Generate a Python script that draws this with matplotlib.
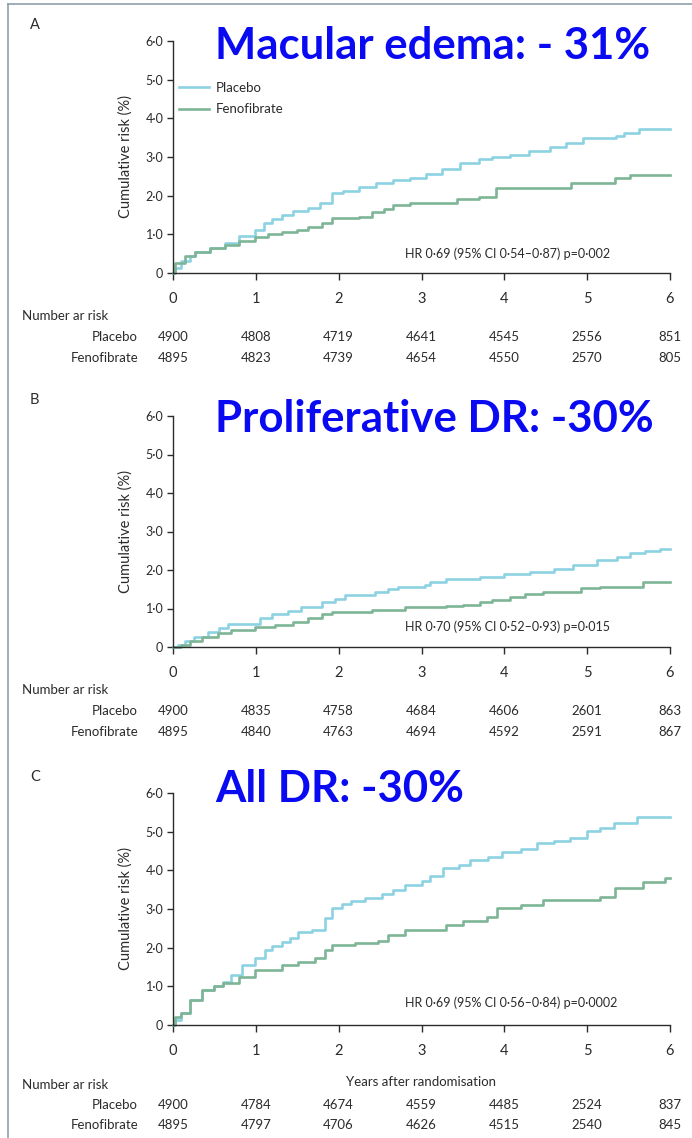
"""Cumulative risk curves for the three eye outcomes (placebo vs fenofibrate)."""
import matplotlib

matplotlib.use("Agg")
import matplotlib.pyplot as plt
from matplotlib import font_manager
from matplotlib.lines import Line2D

# Panel A: macular edema
me_placebo_t = [0, 0.03, 0.1, 0.2, 0.27, 0.45, 0.63, 0.8, 0.99, 1.1, 1.2, 1.31, 1.45, 1.63,
                1.78, 1.92, 2.05, 2.24, 2.45, 2.65, 2.86, 3.05, 3.25, 3.47, 3.7, 3.85, 4.07,
                4.3, 4.55, 4.75, 4.95, 5.35, 5.45, 5.63, 6.0]
me_placebo_risk = [0, 0.13, 0.3, 0.45, 0.55, 0.65, 0.77, 0.95, 1.11, 1.3, 1.4, 1.5, 1.6, 1.68,
                   1.8, 2.07, 2.12, 2.23, 2.32, 2.4, 2.46, 2.55, 2.7, 2.84, 2.95, 3.0, 3.05,
                   3.15, 3.25, 3.35, 3.49, 3.55, 3.62, 3.72, 3.72]
me_feno_t = [0, 0.02, 0.15, 0.27, 0.45, 0.63, 0.8, 0.99, 1.15, 1.31, 1.5, 1.63, 1.8, 1.92,
             2.24, 2.4, 2.55, 2.65, 2.86, 3.43, 3.7, 3.9, 4.8, 5.34, 5.52, 6.0]
me_feno_risk = [0, 0.26, 0.45, 0.55, 0.65, 0.72, 0.82, 0.93, 1.0, 1.06, 1.12, 1.19, 1.3, 1.42,
                1.45, 1.58, 1.65, 1.76, 1.81, 1.91, 1.97, 2.2, 2.32, 2.46, 2.53, 2.53]

# Panel B: proliferative DR
pdr_placebo_t = [0, 0.06, 0.15, 0.25, 0.42, 0.55, 0.66, 1.05, 1.2, 1.39, 1.55, 1.8, 1.95, 2.08,
                 2.44, 2.6, 2.72, 3.04, 3.1, 3.3, 3.71, 3.99, 4.31, 4.6, 4.83, 5.12, 5.36,
                 5.52, 5.7, 5.88, 6.0]
pdr_placebo_risk = [0, 0.05, 0.15, 0.25, 0.39, 0.5, 0.6, 0.75, 0.85, 0.94, 1.05, 1.17, 1.25,
                    1.35, 1.43, 1.5, 1.56, 1.61, 1.69, 1.77, 1.82, 1.9, 1.95, 2.03, 2.13, 2.26,
                    2.34, 2.44, 2.5, 2.55, 2.55]
pdr_feno_t = [0, 0.1, 0.2, 0.35, 0.54, 0.7, 0.99, 1.23, 1.45, 1.63, 1.8, 1.92, 2.4, 2.8, 3.3,
              3.5, 3.71, 3.85, 4.07, 4.25, 4.47, 4.92, 5.16, 5.68, 6.0]
pdr_feno_risk = [0, 0.05, 0.15, 0.25, 0.36, 0.45, 0.52, 0.57, 0.65, 0.75, 0.85, 0.91, 0.96,
                 1.04, 1.06, 1.1, 1.17, 1.22, 1.3, 1.38, 1.43, 1.53, 1.56, 1.69, 1.69]

# Panel C: all DR
dr_placebo_t = [0, 0.03, 0.1, 0.2, 0.35, 0.5, 0.6, 0.7, 0.83, 0.99, 1.11, 1.2, 1.31, 1.41,
                1.51, 1.68, 1.83, 1.92, 2.04, 2.15, 2.32, 2.52, 2.65, 2.8, 3.0, 3.1, 3.26,
                3.45, 3.59, 3.8, 3.97, 4.2, 4.4, 4.6, 4.79, 5.0, 5.15, 5.32, 5.6, 6.0]
dr_placebo_risk = [0, 0.13, 0.31, 0.65, 0.9, 1.0, 1.11, 1.3, 1.55, 1.73, 1.94, 2.05, 2.15,
                   2.25, 2.4, 2.46, 2.77, 3.03, 3.13, 3.2, 3.28, 3.39, 3.5, 3.62, 3.72, 3.85,
                   4.06, 4.15, 4.27, 4.35, 4.47, 4.55, 4.7, 4.77, 4.84, 5.02, 5.1, 5.22, 5.38,
                   5.38]
dr_feno_t = [0, 0.03, 0.1, 0.2, 0.35, 0.5, 0.6, 0.8, 0.99, 1.31, 1.51, 1.71, 1.83, 1.92, 2.2,
             2.48, 2.6, 2.8, 3.3, 3.5, 3.79, 3.91, 4.2, 4.47, 5.16, 5.34, 5.68, 5.94, 6.0]
dr_feno_risk = [0, 0.2, 0.31, 0.65, 0.9, 1.0, 1.09, 1.25, 1.42, 1.55, 1.63, 1.73, 1.94, 2.07,
                2.12, 2.16, 2.33, 2.46, 2.59, 2.7, 2.79, 3.03, 3.1, 3.23, 3.31, 3.54, 3.7,
                3.8, 3.8]

# numbers at risk at years 0..6
risk_years = [0, 1, 2, 3, 4, 5, 6]
me_risk_placebo = [4900, 4808, 4719, 4641, 4545, 2556, 851]
me_risk_feno = [4895, 4823, 4739, 4654, 4550, 2570, 805]
pdr_risk_placebo = [4900, 4835, 4758, 4684, 4606, 2601, 863]
pdr_risk_feno = [4895, 4840, 4763, 4694, 4592, 2591, 867]
dr_risk_placebo = [4900, 4784, 4674, 4559, 4485, 2524, 837]
dr_risk_feno = [4895, 4797, 4706, 4626, 4515, 2540, 845]

yticks = [0, 1, 2, 3, 4, 5, 6]
ytick_labels = ["0", "1·0", "2·0", "3·0", "4·0", "5·0", "6·0"]

PLACEBO_COLOR = "#8dd2e2"
FENO_COLOR = "#7db596"
TITLE_COLOR = "#0a0af2"
TEXT_COLOR = "#2b2b2b"


def pick_font(names):
    for name in names:
        try:
            font_manager.findfont(name, fallback_to_default=False)
            return name
        except ValueError:
            continue
    return "DejaVu Sans"


NARROW = pick_font(["Liberation Sans Narrow", "Lato", "Open Sans"])
BOLD_FONT = pick_font(["Lato", "Open Sans", "Noto Sans"])
plt.rcParams["font.family"] = [NARROW, "DejaVu Sans"]

W, H = 692, 1138
fig = plt.figure(figsize=(W / 100, H / 100), dpi=100)

X0, X1 = 173, 670  # pixel x of year 0 and year 6


def draw_panel(y_zero, y_six, letter, title, title_y, placebo, feno, hr_text, hr_y,
               risk_placebo, risk_feno, table_y, xlabel=False, legend=False):
    """Draw one panel; pixel positions are in reference image coordinates."""
    ax = fig.add_axes([X0 / W, 1 - y_zero / H, (X1 - X0) / W, (y_zero - y_six) / H])
    ax.step(placebo[0], placebo[1], where="post", color=PLACEBO_COLOR, lw=1.9,
            label="Placebo", clip_on=False)
    ax.step(feno[0], feno[1], where="post", color=FENO_COLOR, lw=1.9,
            label="Fenofibrate", clip_on=False)
    ax.set_xlim(0, 6)
    ax.set_ylim(0, 6)
    ax.set_xticks(risk_years)
    ax.set_yticks(yticks)
    ax.set_yticklabels(ytick_labels)
    for side in ("top", "right"):
        ax.spines[side].set_visible(False)
    for side in ("left", "bottom"):
        ax.spines[side].set_color(TEXT_COLOR)
        ax.spines[side].set_linewidth(1.0)
    ax.tick_params(axis="x", direction="out", length=5, width=1, colors=TEXT_COLOR,
                   labelsize=10.5, pad=9)
    ax.tick_params(axis="y", direction="out", length=4, width=1, colors=TEXT_COLOR,
                   labelsize=9, pad=3)
    ax.set_ylabel("Cumulative risk (%)", fontsize=10.5, color=TEXT_COLOR, labelpad=9)
    if xlabel:
        ax.set_xlabel("Years after randomisation", fontsize=9.5, color=TEXT_COLOR,
                      labelpad=13)
    if legend:
        ax.legend(loc="upper left", bbox_to_anchor=(0.012, 0.825), frameon=False,
                  fontsize=9.5, handlelength=2.3, handletextpad=0.5, borderaxespad=0,
                  borderpad=0, labelspacing=0.75, labelcolor=TEXT_COLOR)
    ax.text(2.8, hr_y, hr_text, fontsize=9, color=TEXT_COLOR, va="center", ha="left")

    fig.text(30 / W, 1 - (y_six - 16) / H, letter, fontsize=10.5, color=TEXT_COLOR,
             va="center", ha="left")
    fig.text(215 / W, 1 - title_y / H, title, fontsize=31.5, fontweight="bold",
             color=TITLE_COLOR, va="center", ha="left", family=BOLD_FONT)

    # numbers at risk table
    fig.text(22 / W, 1 - table_y[0] / H, "Number ar risk", fontsize=9.5,
             color=TEXT_COLOR, va="center", ha="left")
    for label, counts, yy in (("Placebo", risk_placebo, table_y[1]),
                              ("Fenofibrate", risk_feno, table_y[2])):
        fig.text(138 / W, 1 - yy / H, label, fontsize=9.5, color=TEXT_COLOR,
                 va="center", ha="right")
        for yr, n in zip(risk_years, counts):
            xp = X0 + yr * (X1 - X0) / 6
            fig.text(xp / W, 1 - yy / H, str(n), fontsize=9.5, color=TEXT_COLOR,
                     va="center", ha="center")
    return ax


draw_panel(273, 41, "A", "Macular edema: - 31%", 46, (me_placebo_t, me_placebo_risk),
           (me_feno_t, me_feno_risk), "HR 0·69 (95% CI 0·54–0·87) p=0·002", 0.49,
           me_risk_placebo, me_risk_feno, (316, 337, 358), legend=True)
draw_panel(647, 416, "B", "Proliferative DR: -30%", 419, (pdr_placebo_t, pdr_placebo_risk),
           (pdr_feno_t, pdr_feno_risk), "HR 0·70 (95% CI 0·52–0·93) p=0·015", 0.52,
           pdr_risk_placebo, pdr_risk_feno, (690, 711, 732))
draw_panel(1025, 793, "C", "All DR: -30%", 789, (dr_placebo_t, dr_placebo_risk),
           (dr_feno_t, dr_feno_risk), "HR 0·69 (95% CI 0·56–0·84) p=0·0002", 0.57,
           dr_risk_placebo, dr_risk_feno, (1085, 1105, 1125), xlabel=True)

# thin frame on the left and top edge
fig.add_artist(Line2D([8 / W, 8 / W], [0, 1 - 4 / H], color="#8fa0aa", lw=1.2))
fig.add_artist(Line2D([8 / W, 1], [1 - 4 / H, 1 - 4 / H], color="#8fa0aa", lw=1.2))

fig.savefig("out.png", dpi=100)
